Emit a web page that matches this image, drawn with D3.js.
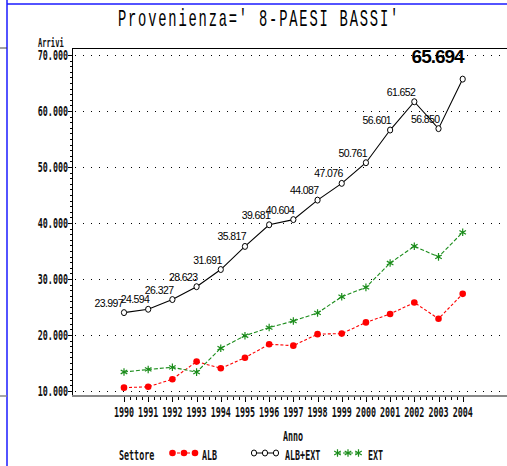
<!DOCTYPE html>
<html>
<head>
<meta charset="utf-8">
<script src="https://cdn.jsdelivr.net/npm/d3@7"></script>
<style>
  body { margin: 0; background: #fff; }
  svg { display: block; }
</style>
</head>
<body>
<div id="chart"></div>
<script>
const years = [1990, 1991, 1992, 1993, 1994, 1995, 1996, 1997, 1998, 1999, 2000, 2001, 2002, 2003, 2004];
const alb = [10600, 10750, 12100, 15250, 14050, 15950, 18350, 18100, 20150, 20250, 22250, 23750, 25800, 22900, 27350];
const ext = [13400, 13850, 14230, 13370, 17640, 19870, 21330, 22500, 23940, 26830, 28510, 32850, 35850, 33950, 38340];
const albExt = [23997, 24594, 26327, 28623, 31691, 35817, 39681, 40604, 44087, 47076, 50761, 56601, 61652, 56850, 65694];
const yTicks = [10000, 20000, 30000, 40000, 50000, 60000, 70000];
const legendNames = ["ALB", "ALB+EXT", "EXT"];

const W = 507, H = 466;
const plot = {left: 72, right: 507, top: 48, bottom: 396};
const sasFont = "DejaVu Sans Mono";
const fmt = d => d3.format(",.0f")(d).replace(/,/g, ".");

const svg = d3.select("#chart").append("svg")
    .attr("width", W)
    .attr("height", H);

const x = d3.scaleLinear().domain([1990, 2004]).range([124, 462.7]);
const y = d3.scaleLinear().domain([10000, 70000]).range([391, 55]);

// narrow SAS style text
function sasText(x0, y0, str, anchor, size) {
    svg.append("g")
        .attr("transform", `translate(${x0},${y0}) scale(0.62,1)`)
        .append("text")
        .attr("text-anchor", anchor || "start")
        .style("font-family", sasFont)
        .style("font-size", (size || 13.5) + "px")
        .style("font-weight", "bold")
        .attr("fill", "#111")
        .text(str);
}

// frame bits from the window
svg.append("line").attr("x1", 7).attr("x2", W).attr("y1", 4).attr("y2", 4)
    .attr("stroke", "#1a1aff").attr("stroke-width", 1.5);
svg.append("line").attr("x1", 7).attr("x2", 7).attr("y1", 0).attr("y2", H)
    .attr("stroke", "#1a1aff").attr("stroke-width", 1.5);
svg.append("line").attr("x1", 0).attr("x2", 7).attr("y1", 48).attr("y2", 48)
    .attr("stroke", "#444").attr("stroke-width", 1);
svg.append("line").attr("x1", 0).attr("x2", 7).attr("y1", 396).attr("y2", 396)
    .attr("stroke", "#888").attr("stroke-width", 1.5);

// title
svg.append("g")
    .attr("transform", "translate(259,26) scale(0.6,1)")
    .append("text")
    .attr("text-anchor", "middle")
    .style("font-family", "Liberation Mono")
    .style("font-size", "23px")
    .style("letter-spacing", "3px")
    .text("Provenienza=' 8-PAESI BASSI'");

// grid
svg.append("g").selectAll("line")
    .data(yTicks)
    .join("line")
    .attr("x1", plot.left + 3)
    .attr("x2", plot.right)
    .attr("y1", d => Math.round(y(d)) + 0.5)
    .attr("y2", d => Math.round(y(d)) + 0.5)
    .attr("stroke", "#000")
    .attr("stroke-width", 1)
    .attr("stroke-dasharray", "1,7");

// top frame line
svg.append("line").attr("x1", plot.left).attr("x2", plot.right)
    .attr("y1", plot.top + 0.5).attr("y2", plot.top + 0.5)
    .attr("stroke", "#000");

// y axis
const yMinor = d3.range(10000, 71000, 1000);
svg.append("g").selectAll("line")
    .data(yMinor)
    .join("line")
    .attr("x1", d => yTicks.includes(d) ? plot.left - 4 : plot.left - 2)
    .attr("x2", plot.left)
    .attr("y1", d => Math.round(y(d)) + 0.5)
    .attr("y2", d => Math.round(y(d)) + 0.5)
    .attr("stroke", "#000");
svg.append("line").attr("x1", plot.left + 0.5).attr("x2", plot.left + 0.5)
    .attr("y1", plot.top).attr("y2", plot.bottom)
    .attr("stroke", "#000");
yTicks.forEach(t => sasText(68, y(t) + 5, fmt(t), "end"));
sasText(38, 47, "Arrivi", "start", 11.5);

// x axis
const xMinor = d3.range(0, 57).map(i => 1990 + i / 4);
svg.append("g").selectAll("line")
    .data(xMinor)
    .join("line")
    .attr("x1", d => Math.round(x(d)) + 0.5)
    .attr("x2", d => Math.round(x(d)) + 0.5)
    .attr("y1", plot.bottom)
    .attr("y2", d => Number.isInteger(d) ? plot.bottom + 6 : plot.bottom + 4)
    .attr("stroke", "#000");
svg.append("line").attr("x1", plot.left).attr("x2", plot.right)
    .attr("y1", plot.bottom).attr("y2", plot.bottom)
    .attr("stroke", "#888").attr("stroke-width", 2);
years.forEach(yr => sasText(x(yr), 417, String(yr), "middle"));
sasText(293, 441, "Anno", "middle");

// series
function series(vals, color, dash, width) {
    const line = d3.line()
        .x((d, i) => x(years[i]))
        .y(d => y(d));
    svg.append("path")
        .datum(vals)
        .attr("fill", "none")
        .attr("stroke", color)
        .attr("stroke-width", width)
        .attr("stroke-dasharray", dash)
        .attr("d", line);
}
series(alb, "#ff0000", "3,2", 1.1);
series(ext, "#1a8c1a", "4,2", 1.1);
series(albExt, "#000", null, 1.1);

const star = d3.symbol().type(d3.symbolAsterisk).size(40);

function redDot(g, cx, cy) {
    g.append("circle").attr("cx", cx).attr("cy", cy).attr("r", 3.3).attr("fill", "#ff0000");
}
function blackCircle(g, cx, cy) {
    g.append("ellipse").attr("cx", cx).attr("cy", cy).attr("rx", 2.6).attr("ry", 3)
        .attr("fill", "#fff").attr("stroke", "#000").attr("stroke-width", 1);
}
function greenStar(g, cx, cy) {
    g.append("path").attr("d", star).attr("transform", `translate(${cx},${cy})`)
        .attr("fill", "none").attr("stroke", "#1a8c1a").attr("stroke-width", 1.2);
}

const marks = svg.append("g");
alb.forEach((v, i) => redDot(marks, x(years[i]), y(v)));
ext.forEach((v, i) => greenStar(marks, x(years[i]), y(v)));
albExt.forEach((v, i) => blackCircle(marks, x(years[i]), y(v)));

// value labels
albExt.forEach((v, i) => {
    const last = i === albExt.length - 1;
    svg.append("text")
        .attr("x", x(years[i]) + (i === 0 ? -1 : 1))
        .attr("y", y(v) - (last ? 16 : 6))
        .attr("text-anchor", "end")
        .style("font-family", "Liberation Sans")
        .style("font-size", last ? "19px" : "10.5px")
        .style("font-weight", last ? "bold" : "normal")
        .style("letter-spacing", last ? "-1px" : "-0.6px")
        .text(fmt(v));
});

// legend
sasText(119, 460, "Settore", "start");
const legend = svg.append("g");
legend.append("line").attr("x1", 172).attr("x2", 195).attr("y1", 453).attr("y2", 453)
    .attr("stroke", "#ff0000").attr("stroke-dasharray", "3,2");
[172.5, 184, 195].forEach(cx => redDot(legend, cx, 453));
sasText(202, 460, legendNames[0], "start");
legend.append("line").attr("x1", 254).attr("x2", 276).attr("y1", 453).attr("y2", 453)
    .attr("stroke", "#000");
[254, 265, 276].forEach(cx => blackCircle(legend, cx, 453));
sasText(285, 460, legendNames[1], "start");
legend.append("line").attr("x1", 337).attr("x2", 359).attr("y1", 453).attr("y2", 453)
    .attr("stroke", "#1a8c1a").attr("stroke-dasharray", "4,2");
[337.5, 348, 358.5].forEach(cx => greenStar(legend, cx, 453));
sasText(368, 460, legendNames[2], "start");
</script>
</body>
</html>
